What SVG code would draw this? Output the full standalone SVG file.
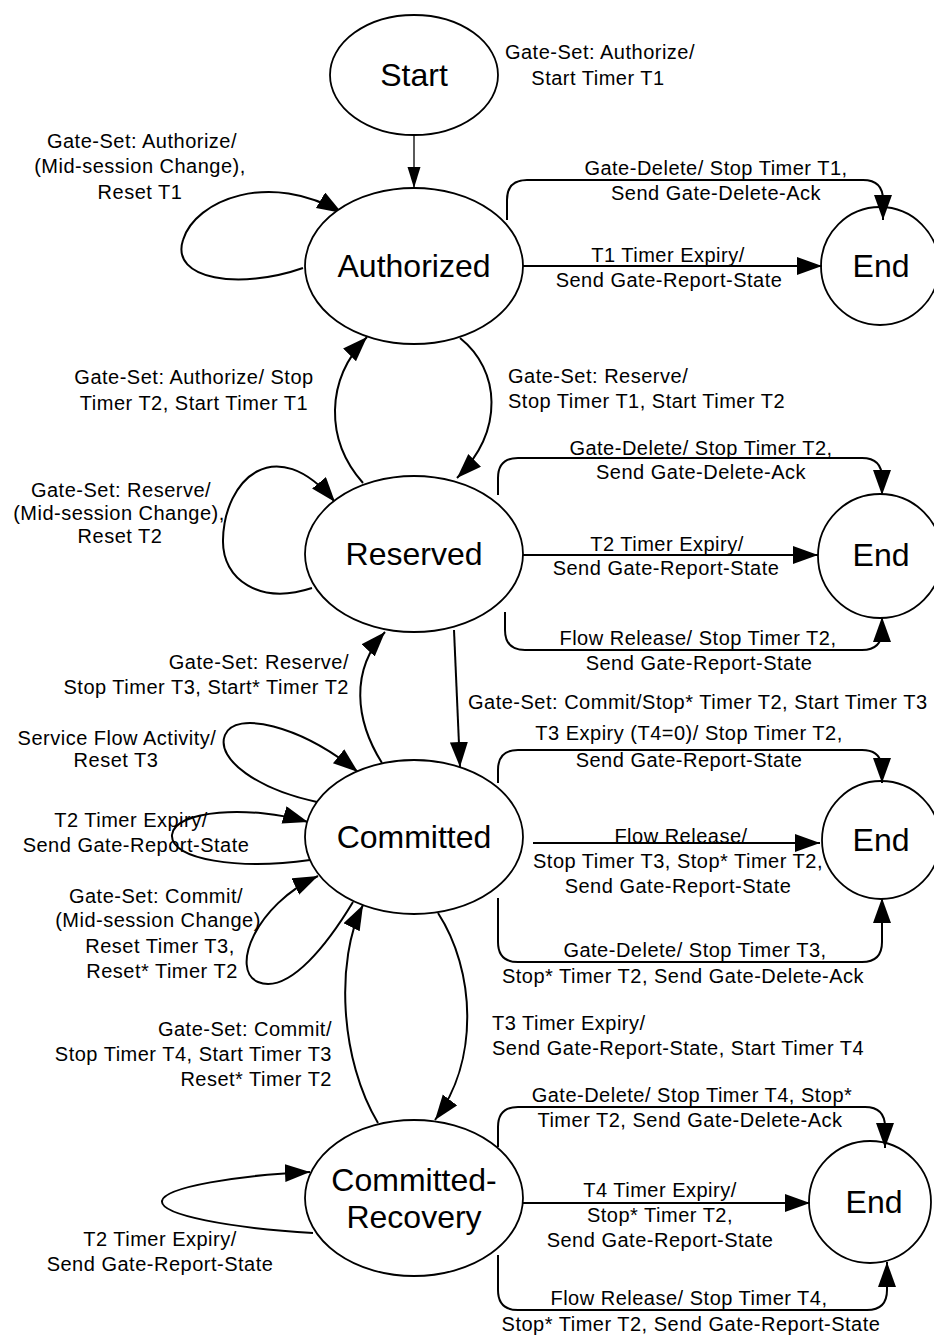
<svg xmlns="http://www.w3.org/2000/svg" width="934" height="1335" viewBox="0 0 934 1335">
<style>
.n{fill:#fff;stroke:#000;stroke-width:1.8}
.nt{font-family:"Liberation Sans",Arial,sans-serif;font-size:32px;text-anchor:middle;fill:#000}
.c{fill:none;stroke:#000;stroke-width:2;marker-end:url(#a)}
.t{font-family:"Liberation Sans",Arial,sans-serif;font-size:20px;letter-spacing:0.5px;fill:#000}
.m{text-anchor:middle}
.e{text-anchor:end}
</style>
<defs>
<marker id="a" markerUnits="userSpaceOnUse" markerWidth="26" markerHeight="20" refX="25" refY="9" orient="auto">
<path d="M0,0 L25,9 L0,18 z" fill="#000"/>
</marker>
<marker id="s" markerUnits="userSpaceOnUse" markerWidth="22" markerHeight="14" refX="21" refY="6.5" orient="auto">
<path d="M0,0 L21,6.5 L0,13 z" fill="#000"/>
</marker>
</defs>
<rect width="934" height="1335" fill="#fff"/>
<g id="connectors">
<path d="M414 135 L414 188" fill="none" stroke="#000" stroke-width="1.3" marker-end="url(#s)"/>
<path class="c" d="M303 268 C240 290 170 280 183 240 C195 200 270 170 342 213"/>
<path class="c" d="M507 220 V200 Q507 180 527 180 H863 Q883 180 883 200 V220"/>
<path class="c" d="M523 266 H822"/>
<path class="c" d="M460 338 C500 370 505 430 457 478"/>
<path class="c" d="M363 483 C325 440 325 380 367 337"/>
<path class="c" d="M312 588 C260 605 222 580 223 540 C224 480 275 430 335 502"/>
<path class="c" d="M498 495 V478 Q498 458 518 458 H862 Q882 458 882 478 V495"/>
<path class="c" d="M523 555 H818"/>
<path class="c" d="M505 612 V630 Q505 650 525 650 H862 Q882 650 882 630 V617"/>
<path class="c" d="M454 630 L460 767"/>
<path class="c" d="M382 763 C355 720 350 670 385 632"/>
<path class="c" d="M317 802 C260 790 215 760 225 735 C235 710 300 725 358 772"/>
<path class="c" d="M310 860 C240 870 170 860 172 835 C174 810 250 805 308 822"/>
<path class="c" d="M353 902 C330 940 290 995 258 982 C230 970 255 905 318 876"/>
<path class="c" d="M498 783 V770 Q498 750 518 750 H862 Q882 750 882 770 V783"/>
<path class="c" d="M533 843 H820"/>
<path class="c" d="M498 898 V942 Q498 962 518 962 H862 Q882 962 882 942 V898"/>
<path class="c" d="M438 913 C475 970 480 1060 435 1120"/>
<path class="c" d="M378 1123 C340 1060 335 960 363 905"/>
<path class="c" d="M313 1233 C230 1228 160 1215 162 1201 C164 1187 240 1175 310 1172"/>
<path class="c" d="M498 1147 V1127 Q498 1107 518 1107 H865 Q885 1107 885 1127 V1148"/>
<path class="c" d="M523 1203 H810"/>
<path class="c" d="M498 1255 V1290 Q498 1310 518 1310 H867 Q887 1310 887 1290 V1262"/>
</g>
<g id="labels">
<text class="t m" x="600" y="59">Gate-Set: Authorize/</text>
<text class="t m" x="598" y="85">Start Timer T1</text>
<text class="t m" x="142" y="148">Gate-Set: Authorize/</text>
<text class="t m" x="140" y="173">(Mid-session Change),</text>
<text class="t m" x="140" y="199">Reset T1</text>
<text class="t m" x="716" y="175">Gate-Delete/ Stop Timer T1,</text>
<text class="t m" x="716" y="200">Send Gate-Delete-Ack</text>
<text class="t m" x="668" y="262">T1 Timer Expiry/</text>
<text class="t m" x="669" y="287">Send Gate-Report-State</text>
<text class="t m" x="194" y="384">Gate-Set: Authorize/ Stop</text>
<text class="t m" x="194" y="410">Timer T2, Start Timer T1</text>
<text class="t" x="508" y="383">Gate-Set: Reserve/</text>
<text class="t" x="508" y="408">Stop Timer T1, Start Timer T2</text>
<text class="t m" x="121" y="497">Gate-Set: Reserve/</text>
<text class="t m" x="119" y="520">(Mid-session Change),</text>
<text class="t m" x="120" y="543">Reset T2</text>
<text class="t m" x="701" y="455">Gate-Delete/ Stop Timer T2,</text>
<text class="t m" x="701" y="479">Send Gate-Delete-Ack</text>
<text class="t m" x="667" y="551">T2 Timer Expiry/</text>
<text class="t m" x="666" y="575">Send Gate-Report-State</text>
<text class="t m" x="698" y="645">Flow Release/ Stop Timer T2,</text>
<text class="t m" x="699" y="670">Send Gate-Report-State</text>
<text class="t e" x="349" y="669">Gate-Set: Reserve/</text>
<text class="t e" x="349" y="694">Stop Timer T3, Start* Timer T2</text>
<text class="t" x="468" y="709">Gate-Set: Commit/Stop* Timer T2, Start Timer T3</text>
<text class="t m" x="117" y="745">Service Flow Activity/</text>
<text class="t m" x="116" y="767">Reset T3</text>
<text class="t m" x="131" y="827">T2 Timer Expiry/</text>
<text class="t m" x="136" y="852">Send Gate-Report-State</text>
<text class="t m" x="156" y="903">Gate-Set: Commit/</text>
<text class="t m" x="158" y="927">(Mid-session Change)</text>
<text class="t m" x="160" y="953">Reset Timer T3,</text>
<text class="t m" x="162" y="978">Reset* Timer T2</text>
<text class="t m" x="689" y="740">T3 Expiry (T4=0)/ Stop Timer T2,</text>
<text class="t m" x="689" y="767">Send Gate-Report-State</text>
<text class="t m" x="681" y="843">Flow Release/</text>
<text class="t m" x="678" y="868">Stop Timer T3, Stop* Timer T2,</text>
<text class="t m" x="678" y="893">Send Gate-Report-State</text>
<text class="t m" x="695" y="957">Gate-Delete/ Stop Timer T3,</text>
<text class="t m" x="683" y="983">Stop* Timer T2, Send Gate-Delete-Ack</text>
<text class="t e" x="332" y="1036">Gate-Set: Commit/</text>
<text class="t e" x="332" y="1061">Stop Timer T4, Start Timer T3</text>
<text class="t e" x="332" y="1086">Reset* Timer T2</text>
<text class="t" x="492" y="1030">T3 Timer Expiry/</text>
<text class="t" x="492" y="1055">Send Gate-Report-State, Start Timer T4</text>
<text class="t m" x="692" y="1102">Gate-Delete/ Stop Timer T4, Stop*</text>
<text class="t m" x="690" y="1127">Timer T2, Send Gate-Delete-Ack</text>
<text class="t m" x="660" y="1197">T4 Timer Expiry/</text>
<text class="t m" x="660" y="1222">Stop* Timer T2,</text>
<text class="t m" x="660" y="1247">Send Gate-Report-State</text>
<text class="t m" x="689" y="1305">Flow Release/ Stop Timer T4,</text>
<text class="t m" x="691" y="1331">Stop* Timer T2, Send Gate-Report-State</text>
<text class="t m" x="160" y="1246">T2 Timer Expiry/</text>
<text class="t m" x="160" y="1271">Send Gate-Report-State</text>
</g>
<g id="start"><ellipse class="n" cx="414" cy="75" rx="84" ry="60"/><text class="nt" x="414" y="86">Start</text></g>
<g id="authorized"><ellipse class="n" cx="414" cy="266" rx="109" ry="78"/><text class="nt" x="414" y="277">Authorized</text></g>
<g id="reserved"><ellipse class="n" cx="414" cy="554" rx="109" ry="78"/><text class="nt" x="414" y="565">Reserved</text></g>
<g id="committed"><ellipse class="n" cx="414" cy="837" rx="109" ry="77"/><text class="nt" x="414" y="848">Committed</text></g>
<g id="committed-recovery"><ellipse class="n" cx="414" cy="1198" rx="109" ry="78"/><text class="nt" x="414" y="1191">Committed-</text><text class="nt" x="414" y="1228">Recovery</text></g>
<g id="end1"><circle class="n" cx="880" cy="266" r="59" fill-opacity="0"/><text class="nt" x="881" y="277">End</text></g>
<g id="end2"><circle class="n" cx="880" cy="556" r="62" fill-opacity="0"/><text class="nt" x="881" y="566">End</text></g>
<g id="end3"><circle class="n" cx="881" cy="840" r="59" fill-opacity="0"/><text class="nt" x="881" y="851">End</text></g>
<g id="end4"><circle class="n" cx="870" cy="1202" r="61" fill-opacity="0"/><text class="nt" x="874" y="1213">End</text></g>
</svg>
